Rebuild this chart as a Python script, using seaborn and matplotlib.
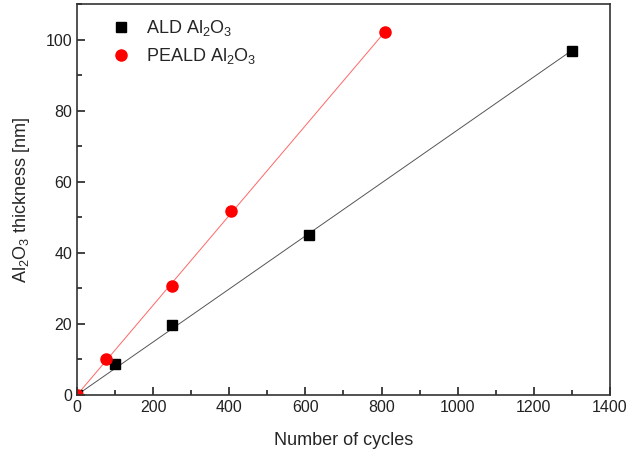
import numpy as np
import pandas as pd
import matplotlib
matplotlib.use("Agg")
import matplotlib.pyplot as plt
import seaborn as sns
from matplotlib.ticker import MultipleLocator

sns.set_theme(style="ticks")
plt.rcParams['font.family'] = ['Liberation Sans', 'DejaVu Sans']
plt.rcParams['mathtext.fontset'] = 'custom'
plt.rcParams['mathtext.rm'] = 'Liberation Sans'
plt.rcParams['mathtext.it'] = 'Liberation Sans'

ald_cycles = [0, 100, 250, 610, 1300]
ald_thick = [0, 8.8, 19.8, 45.1, 96.8]
peald_cycles = [0, 76, 250, 405, 810]
peald_thick = [0, 10.0, 30.8, 51.8, 102.2]

ald_label = r"ALD Al$_2$O$_3$"
peald_label = r"PEALD Al$_2$O$_3$"

fig = plt.figure(figsize=(6.28, 4.55), dpi=100)
ax = fig.add_axes([0.1226, 0.1319, 0.8487, 0.8593])

def fit_line(x, y):
    x = np.asarray(x, float); y = np.asarray(y, float)
    k = np.sum(x * y) / np.sum(x * x)
    xs = np.array([0, x.max()])
    return pd.DataFrame({"x": xs, "y": k * xs})

la = fit_line(ald_cycles, ald_thick)
lp = fit_line(peald_cycles, peald_thick)
sns.lineplot(data=la, x="x", y="y", ax=ax, color="#555555", lw=0.7, legend=False)
sns.lineplot(data=lp, x="x", y="y", ax=ax, color="#ff6666", lw=0.7, legend=False)

ax.plot(ald_cycles, ald_thick, ls="none", marker="s", ms=7, color="black", label=ald_label, clip_on=True)
ax.plot(peald_cycles, peald_thick, ls="none", marker="o", ms=8, color="red", mec="red", label=peald_label, clip_on=True)

ax.set_xlim(0, 1400)
ax.set_ylim(0, 110)
ax.xaxis.set_major_locator(MultipleLocator(200))
ax.xaxis.set_minor_locator(MultipleLocator(100))
ax.yaxis.set_major_locator(MultipleLocator(20))
ax.yaxis.set_minor_locator(MultipleLocator(10))
ax.tick_params(which="both", direction="in", top=False, right=False, labelsize=11.5, colors="#222222")
ax.tick_params(which="major", length=6, width=1.2)
ax.tick_params(which="minor", length=3.5, width=1.2)
for s in ax.spines.values():
    s.set_linewidth(1.2)
    s.set_color("#333333")

ax.set_xlabel("Number of cycles", fontsize=13, labelpad=12)
ax.set_ylabel(r"Al$_2$O$_3$ thickness [nm]", fontsize=13, labelpad=10)

leg = ax.legend(loc="upper left", bbox_to_anchor=(0.032, 1.005), frameon=False, fontsize=13,
                handletextpad=0.8, labelspacing=0.45, handlelength=1.2)

fig.savefig("out.png", dpi=100)
